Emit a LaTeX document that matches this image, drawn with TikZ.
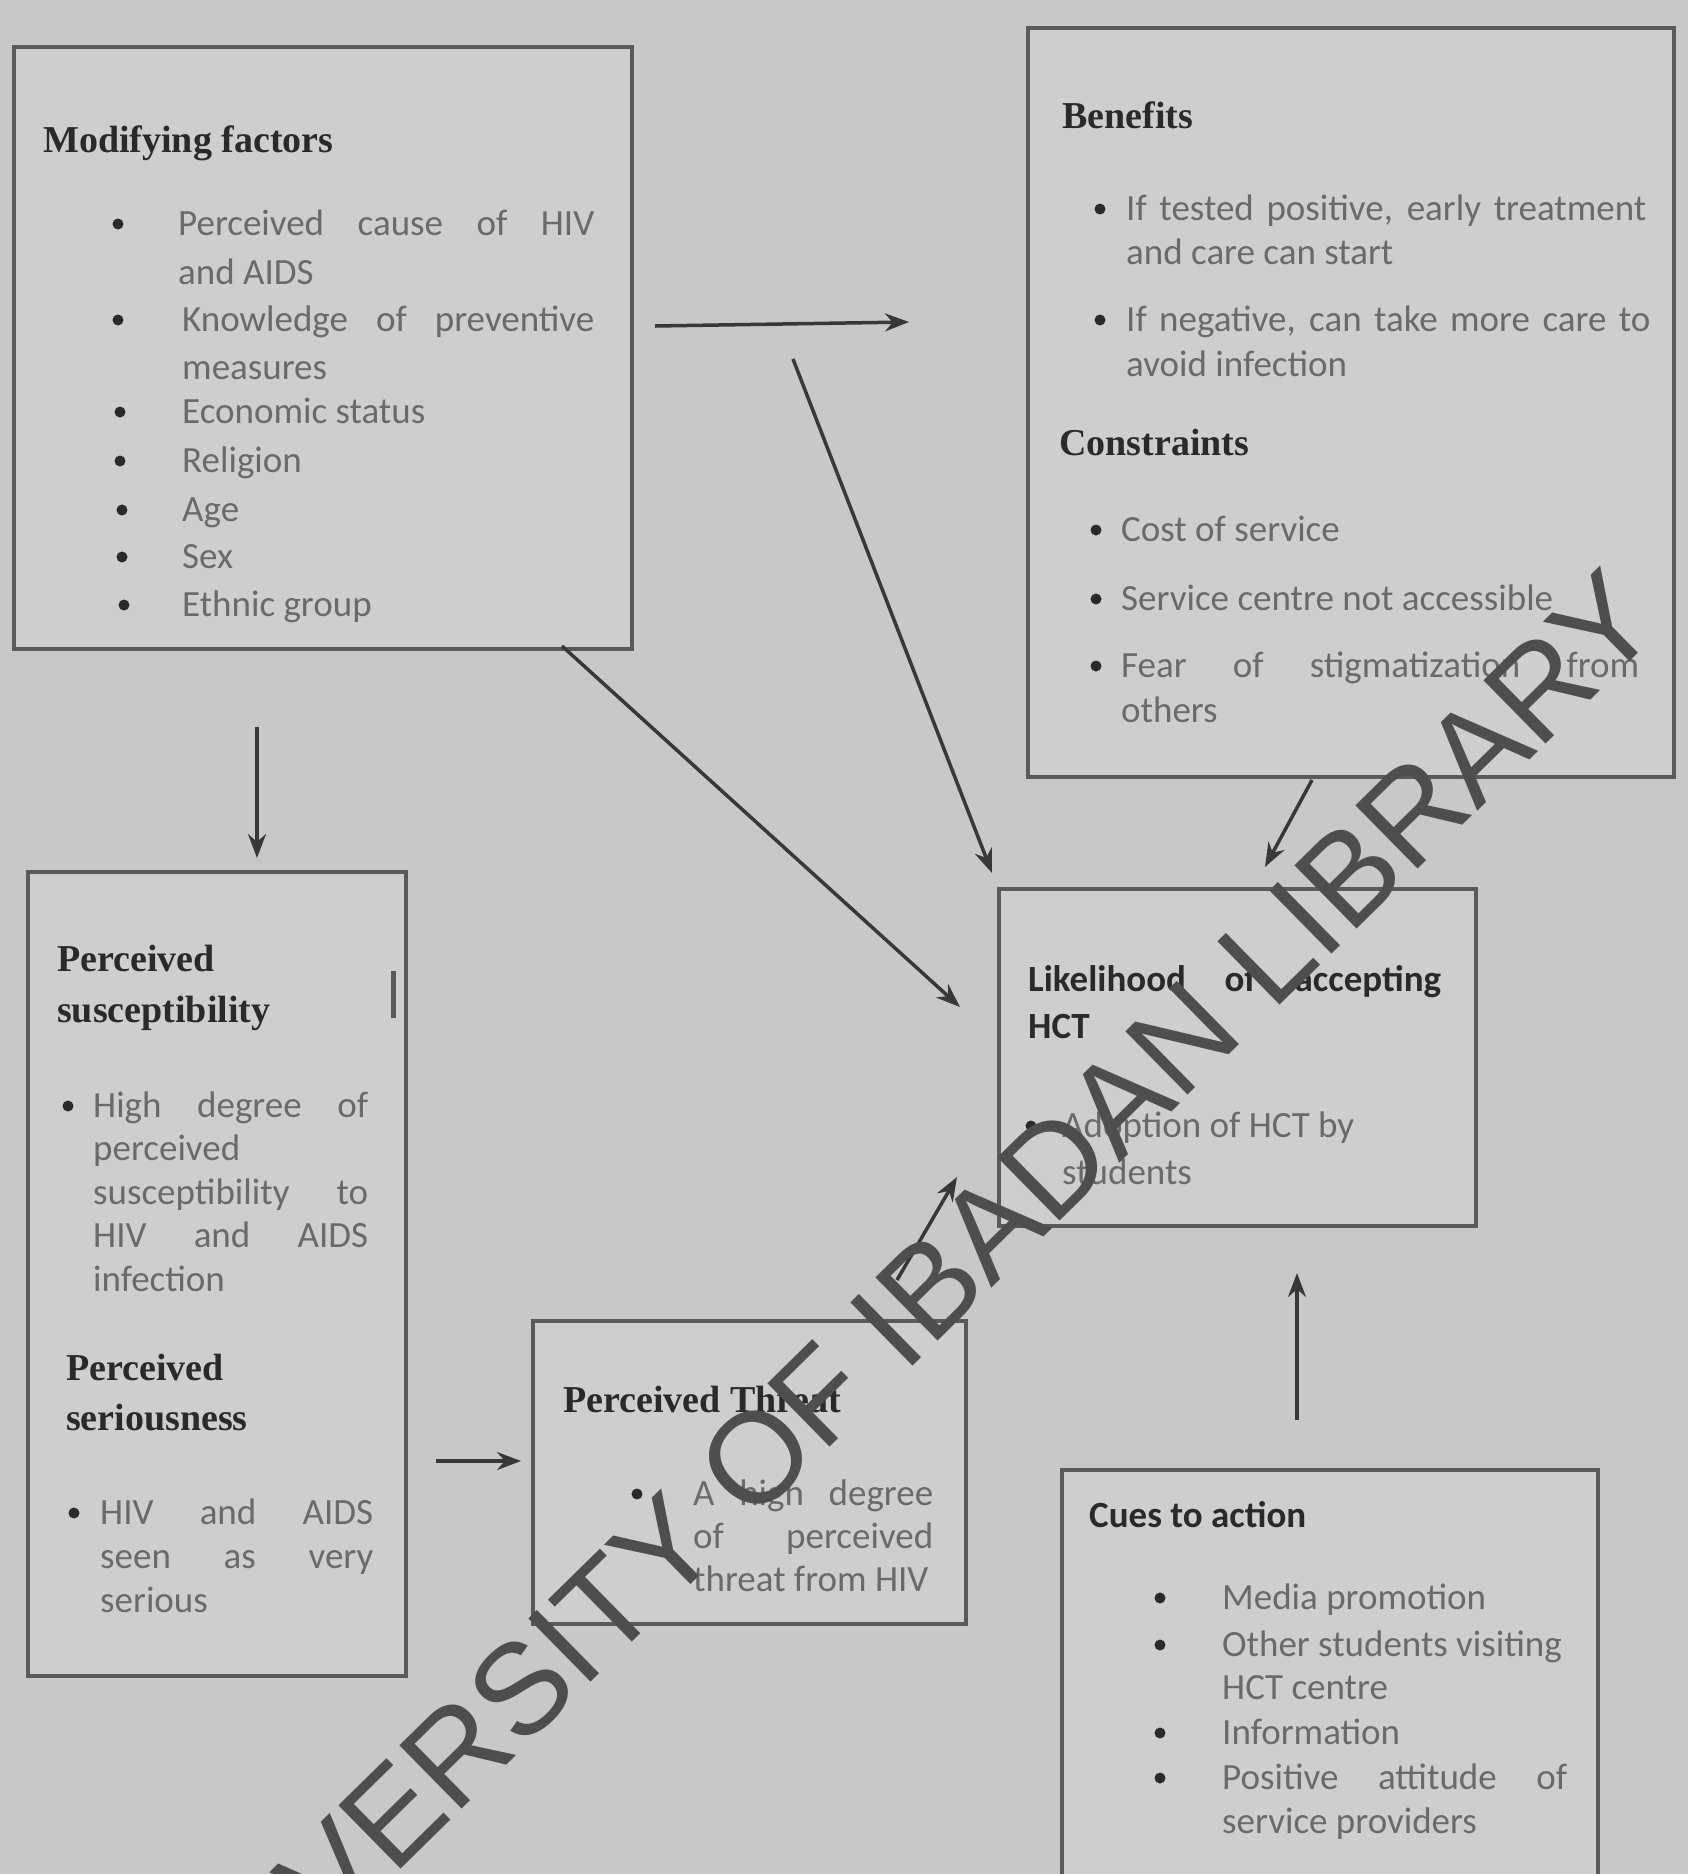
\documentclass[tikz,border=0pt]{standalone}
\usepackage{fontspec}
\setmainfont{Carlito}
\newfontfamily\headserif{Liberation Serif}
\newfontfamily\wmfont{Liberation Sans}
\usetikzlibrary{arrows.meta}
\definecolor{bg}{HTML}{C8C8C8}
\definecolor{boxfill}{HTML}{CECECE}
\definecolor{boxline}{HTML}{5A5A5A}
\definecolor{bodytxt}{HTML}{6A6A6A}
\definecolor{headtxt}{HTML}{2A2A2A}
\definecolor{arrowc}{HTML}{383838}
\definecolor{wmc}{HTML}{4E4E4E}
\newcommand\bodyf[1]{\fontsize{37pt}{#1pt}\selectfont}
\newcommand\headf{\headserif\bfseries\fontsize{38pt}{46pt}\selectfont}
\newcommand\headsf[1]{\bfseries\fontsize{37pt}{#1pt}\selectfont}
\tikzset{
  boxst/.style={draw=boxline, line width=4pt, fill=boxfill, anchor=north west, inner sep=0pt},
  bul/.style={circle, fill=headtxt, inner sep=0pt, minimum size=11pt},
  itm/.style={anchor=base west, inner sep=0pt, align=justify, text=bodytxt, font=\bodyf{48}},
  hd/.style={anchor=base west, inner sep=0pt, text=headtxt, font=\headf},
  arr/.style={draw=arrowc, line width=3.5pt, -{Stealth[length=24pt,width=18pt]}},
}
\begin{document}
\begin{tikzpicture}[x=1pt,y=-1pt]
\useasboundingbox (0,0) rectangle (1688,1874);
\fill[bg] (0,0) rectangle (1688,1874);

% boxes
\node[boxst, minimum width=618pt, minimum height=602pt] (mf) at (12,45) {};
\node[boxst, minimum width=646pt, minimum height=749pt] (be) at (1026,26) {};
\node[boxst, minimum width=378pt, minimum height=804pt] (su) at (26,870) {};
\node[boxst, minimum width=433pt, minimum height=303pt] (th) at (531,1319) {};
\node[boxst, minimum width=477pt, minimum height=337pt] (li) at (997,887) {};
\node[boxst, minimum width=536pt, minimum height=430pt] (cu) at (1060,1468) {};

% Modifying factors
\node[hd] (mfh) at (43,152) {Modifying factors};
\node[bul] (mfb1) at (118,224) {};
\node[itm, text width=416pt, font=\bodyf{49}] (mft1) at (178,235) {Perceived cause of HIV\linebreak and AIDS};
\node[bul] (mfb2) at (118,320) {};
\node[itm, text width=412pt] (mft2) at (182,331) {Knowledge of preventive\linebreak measures};
\node[bul] (mfb3) at (120,412) {};
\node[itm, text width=412pt] (mft3) at (182,423) {Economic status};
\node[bul] (mfb4) at (120,461) {};
\node[itm, text width=412pt] (mft4) at (182,472) {Religion};
\node[bul] (mfb5) at (122,510) {};
\node[itm, text width=412pt] (mft5) at (182,521) {Age};
\node[bul] (mfb6) at (122,557) {};
\node[itm, text width=412pt] (mft6) at (182,568) {Sex};
\node[bul] (mfb7) at (124,605) {};
\node[itm, text width=412pt] (mft7) at (182,616) {Ethnic group};

% Benefits / Constraints
\node[hd] (beh) at (1062,128) {Benefits};
\node[bul] (beb1) at (1100,209) {};
\node[itm, text width=520pt, font=\bodyf{44}] (bet1) at (1126,220) {If tested positive, early treatment\linebreak and care can start};
\node[bul] (beb2) at (1100,320) {};
\node[itm, text width=524pt, font=\bodyf{45}] (bet2) at (1126,331) {If negative, can take more care to\linebreak avoid infection};
\node[hd] (coh) at (1059,455) {Constraints};
\node[bul] (cob1) at (1096,530) {};
\node[itm, text width=518pt] (cot1) at (1121,541) {Cost of service};
\node[bul] (cob2) at (1096,599) {};
\node[itm, text width=518pt] (cot2) at (1121,610) {Service centre not accessible};
\node[bul] (cob3) at (1096,666) {};
\node[itm, text width=518pt, font=\bodyf{45}] (cot3) at (1121,677) {Fear of stigmatization from\linebreak others};

% Perceived susceptibility / seriousness
\node[hd] (suh1) at (57,971) {Perceived};
\node[hd] (suh2) at (57,1022) {susceptibility};
\node[bul] (sub1) at (68,1106) {};
\node[itm, text width=275pt, font=\bodyf{43.5}] (sut1) at (93,1117) {High degree of\linebreak perceived\newline susceptibility to\linebreak HIV and AIDS\linebreak infection};
\node[hd] (seh1) at (66,1380) {Perceived};
\node[hd] (seh2) at (66,1430) {seriousness};
\node[bul] (seb1) at (74,1513) {};
\node[itm, text width=273pt, font=\bodyf{44}] (set1) at (100,1524) {HIV and AIDS\linebreak seen as very\linebreak serious};
\draw[boxline, line width=5pt] (393,971) coordinate (tk1) -- (393,1018) coordinate (tk2);

% Perceived threat
\node[hd] (thh) at (563,1412) {Perceived Threat};
\node[bul] (thb1) at (637,1494) {};
\node[itm, text width=240pt, font=\bodyf{43}] (tht1) at (693,1505) {A high degree\linebreak of perceived\linebreak threat from HIV};

% Likelihood
\node[itm, text=headtxt, text width=413pt, font=\headsf{47}] (lih) at (1028,991) {Likelihood of accepting\linebreak HCT};
\node[bul] (lib1) at (1031,1126) {};
\node[itm, text width=379pt, font=\bodyf{47}] (lit1) at (1062,1137) {Adoption of HCT by\newline students};

% Cues to action
\node[anchor=base west, inner sep=0pt, text=headtxt, font=\headsf{44}] (cuh) at (1089,1527) {Cues to action};
\node[bul] (cub1) at (1160,1598) {};
\node[itm, text width=345pt] (cut1) at (1222,1609) {Media promotion};
\node[bul] (cub2) at (1160,1645) {};
\node[itm, text width=345pt, font=\bodyf{43}] (cut2) at (1222,1656) {Other students visiting\newline HCT centre};
\node[bul] (cub3) at (1160,1733) {};
\node[itm, text width=345pt] (cut3) at (1222,1744) {Information};
\node[bul] (cub4) at (1160,1778) {};
\node[itm, text width=345pt, font=\bodyf{44}] (cut4) at (1222,1789) {Positive attitude of\linebreak service providers};

% connectors
\coordinate (a1s) at (655,326);  \coordinate (a1e) at (909,322);
\coordinate (a2s) at (793,359);  \coordinate (a2e) at (992,873);
\coordinate (a3s) at (562,646);  \coordinate (a3e) at (960,1007);
\coordinate (a4s) at (257,727);  \coordinate (a4e) at (257,858);
\coordinate (a5s) at (436,1461); \coordinate (a5e) at (521,1461);
\coordinate (a6s) at (897,1280); \coordinate (a6e) at (957,1177);
\coordinate (a7s) at (1312,780); \coordinate (a7e) at (1265,867);
\coordinate (a8s) at (1297,1420);\coordinate (a8e) at (1297,1273);
\draw[arr] (a1s) -- (a1e);
\draw[arr] (a2s) -- (a2e);
\draw[arr] (a3s) -- (a3e);
\draw[arr] (a4s) -- (a4e);
\draw[arr] (a5s) -- (a5e);
\draw[arr] (a6s) -- (a6e);
\draw[arr] (a7s) -- (a7e);
\draw[arr] (a8s) -- (a8e);

% watermark
\node[rotate=44.5, inner sep=0pt, text=wmc, font=\wmfont\fontsize{129pt}{129pt}\selectfont] (wmk) at (888,1328) {UNIVERSITY OF IBADAN LIBRARY};
\end{tikzpicture}
\end{document}
